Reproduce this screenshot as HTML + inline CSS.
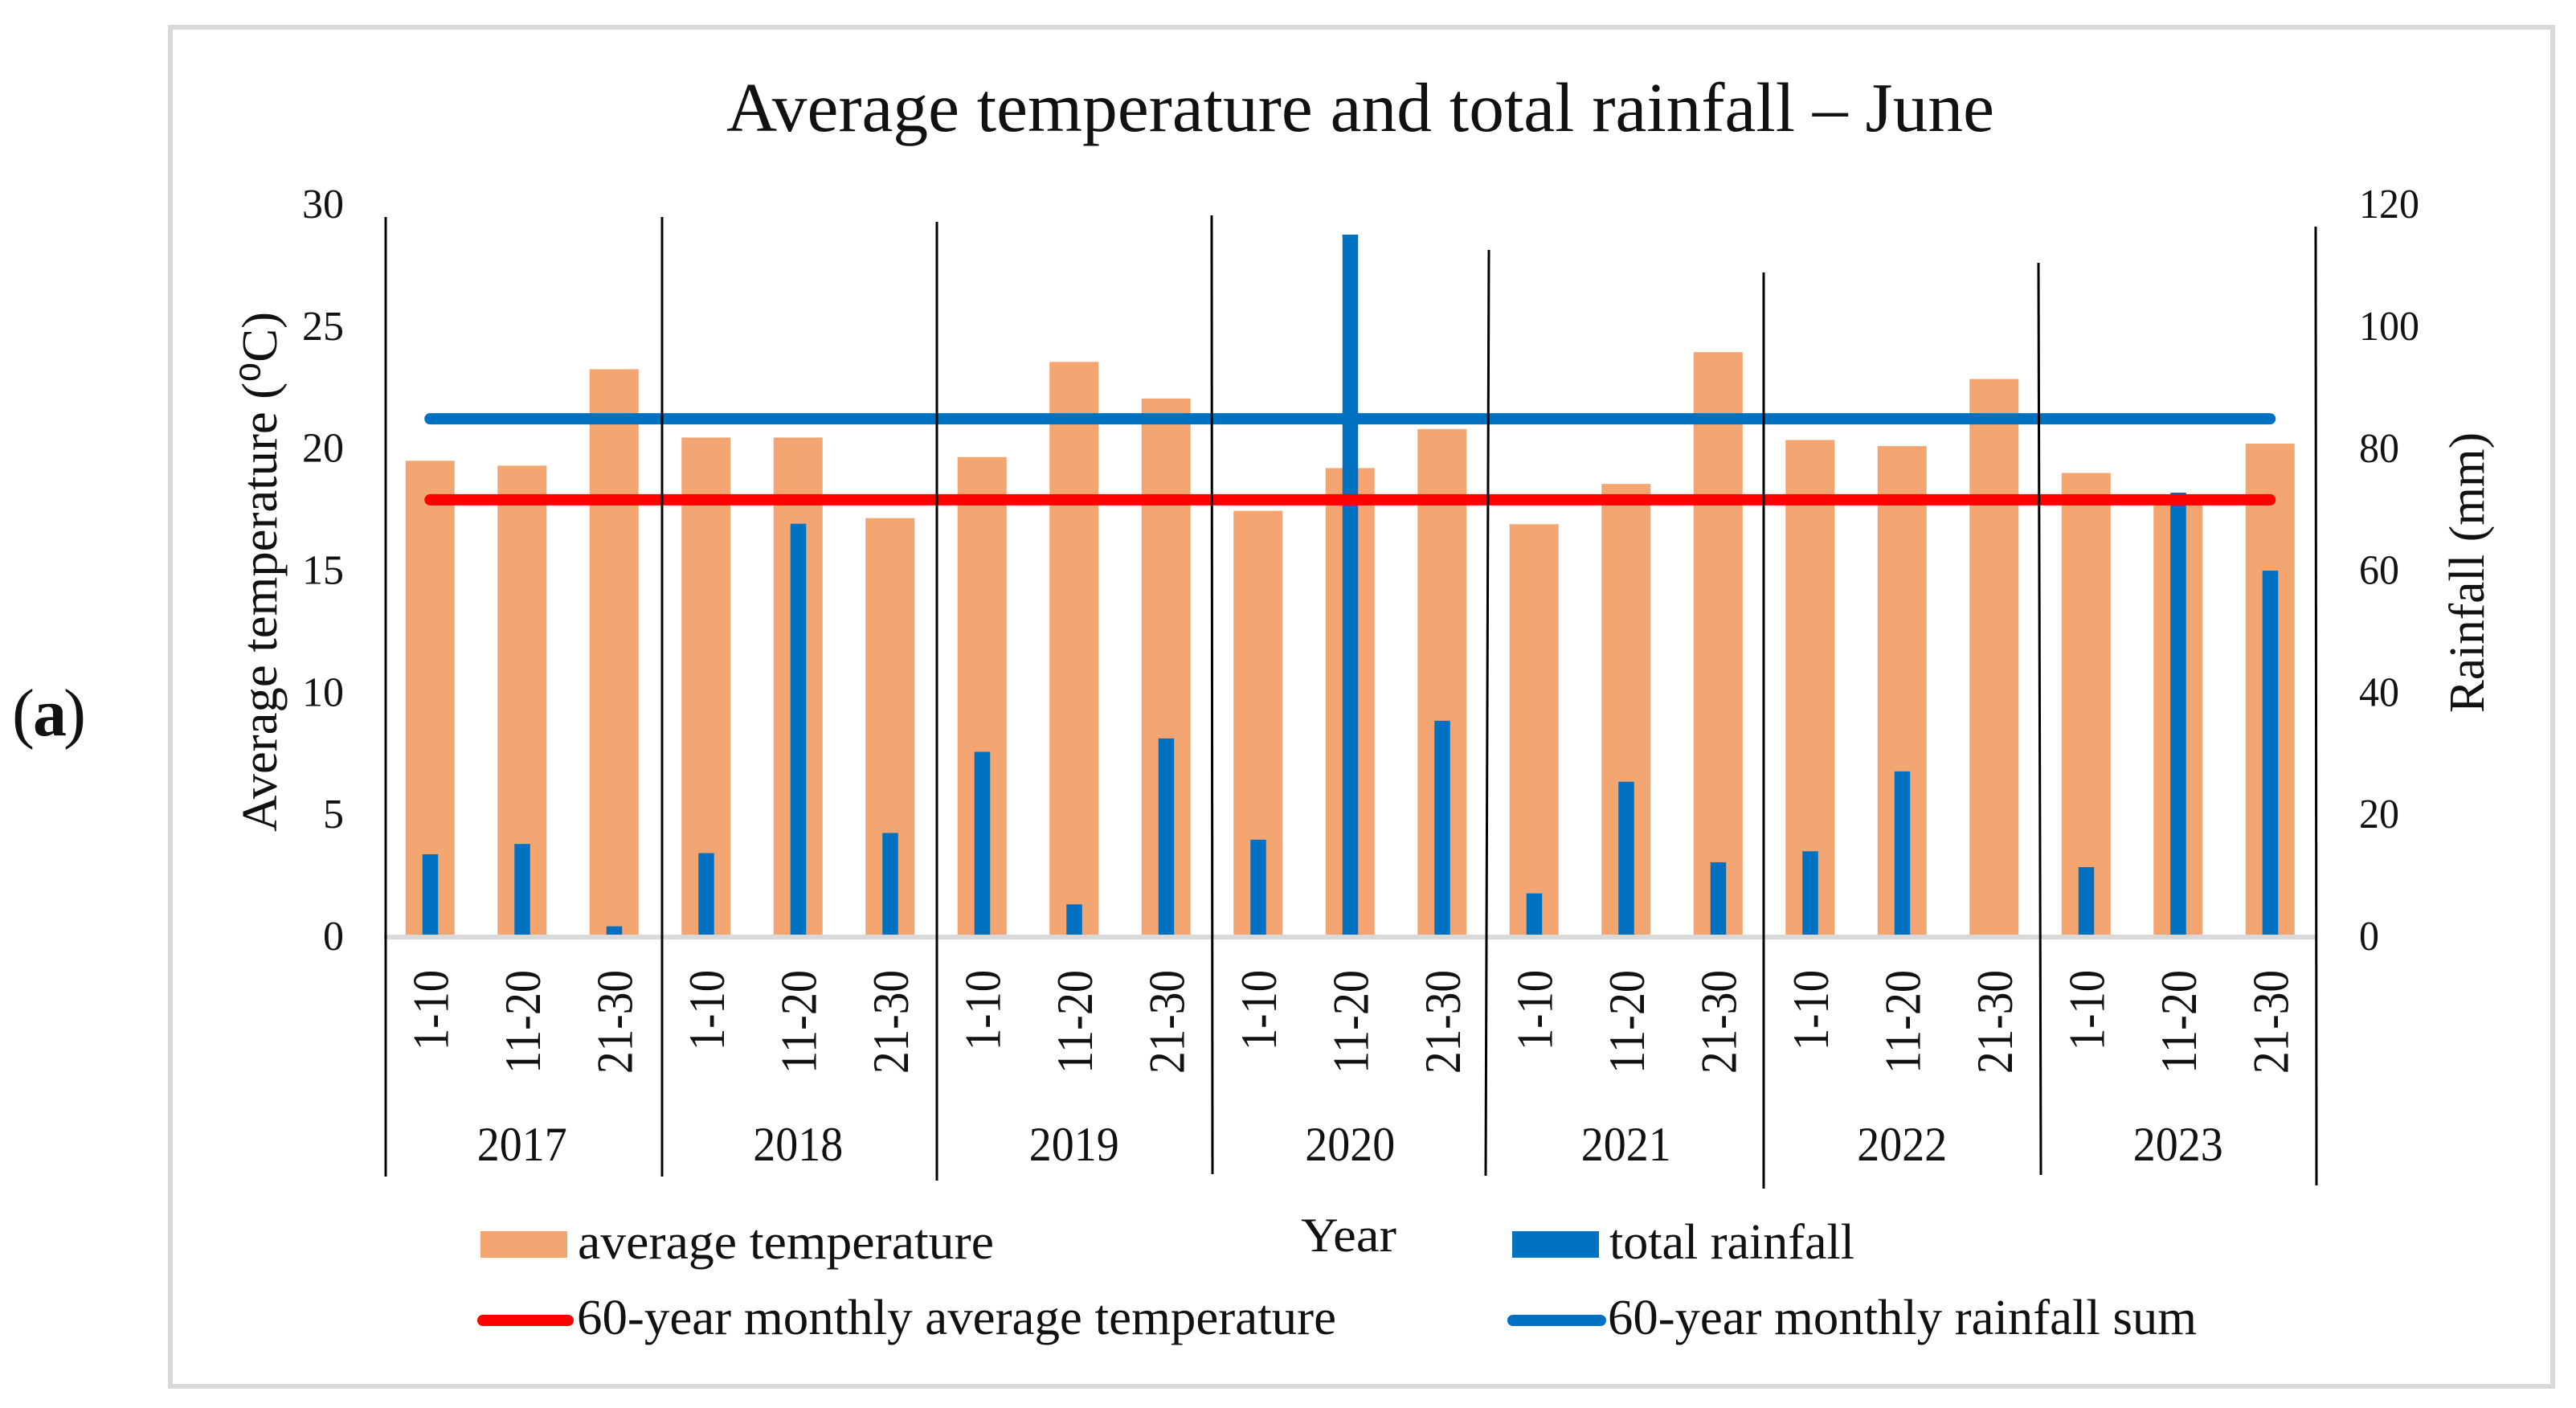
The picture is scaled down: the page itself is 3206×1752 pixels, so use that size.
<!DOCTYPE html>
<html lang="en">
<head>
<meta charset="utf-8">
<title>Average temperature and total rainfall – June</title>
<style>
html,body{margin:0;padding:0;background:#fff;}
body{width:3206px;height:1752px;overflow:hidden;}
svg{display:block;}
text{font-family:"Liberation Serif",serif;fill:#111;}
</style>
</head>
<body>
<svg id="chart" xmlns="http://www.w3.org/2000/svg" width="3206" height="1752" viewBox="0 0 3206 1752">
  <rect x="0" y="0" width="3206" height="1752" fill="#ffffff"/>
  <rect x="212" y="34" width="2965" height="1691" fill="#ffffff" stroke="#d9d9d9" stroke-width="6"/>
  <text y="915" font-size="84">
    <tspan x="15">(</tspan><tspan x="41" font-weight="bold">a</tspan><tspan x="79">)</tspan>
  </text>
  <text x="904" y="163" font-size="87" textLength="1578" lengthAdjust="spacingAndGlyphs">Average temperature and total rainfall – June</text>
  <text transform="translate(344,1035) rotate(-90)" font-size="62" textLength="647" lengthAdjust="spacingAndGlyphs">Average temperature (⁰C)</text>
  <text transform="translate(3091,887) rotate(-90)" font-size="62" textLength="349" lengthAdjust="spacingAndGlyphs">Rainfall (mm)</text>
  <g id="bars"></g>
  <rect x="478" y="1163" width="2405" height="6" fill="#d9d9d9"/>
  <g id="lines"></g>
  <g id="separators"></g>
  <g id="axes"></g>
  <text x="1619" y="1557" font-size="60" textLength="119" lengthAdjust="spacingAndGlyphs">Year</text>
  <g>
    <rect x="598" y="1532" width="108" height="33" fill="#f4a672"/>
    <text x="719" y="1566" font-size="62" textLength="518" lengthAdjust="spacingAndGlyphs">average temperature</text>
    <rect x="1882" y="1532" width="108" height="33" fill="#0070c0"/>
    <text x="2003" y="1566" font-size="62" textLength="305" lengthAdjust="spacingAndGlyphs">total rainfall</text>
    <line x1="601" y1="1643" x2="707" y2="1643" stroke="#ff0000" stroke-width="14" stroke-linecap="round"/>
    <text x="718" y="1660" font-size="62" textLength="945" lengthAdjust="spacingAndGlyphs">60-year monthly average temperature</text>
    <line x1="1883" y1="1643" x2="1992" y2="1643" stroke="#0070c0" stroke-width="14" stroke-linecap="round"/>
    <text x="2001" y="1660" font-size="62" textLength="733" lengthAdjust="spacingAndGlyphs">60-year monthly rainfall sum</text>
  </g>
</svg>
<script>
const years = ["2017","2018","2019","2020","2021","2022","2023"];
const periods = ["1-10","11-20","21-30"];
const averageTemperature = [19.45,19.25,23.2,20.4,20.4,17.1,19.6,23.5,22.0,17.4,19.15,20.75,16.85,18.5,23.9,20.3,20.05,22.8,18.95,17.9,20.15];
const totalRainfall = [13.3,15,1.5,13.5,67.5,16.8,30.1,5.1,32.3,15.7,114.9,35.2,6.9,25.2,12,13.8,26.9,0,11.2,72.6,59.8];
const temperatureNorm = [17.85,17.85,17.85,17.85,17.85,17.85,17.85,17.85,17.85,17.85,17.85,17.85,17.85,17.85,17.85,17.85,17.85,17.85,17.85,17.85,17.85];
const rainfallNorm = [84.7,84.7,84.7,84.7,84.7,84.7,84.7,84.7,84.7,84.7,84.7,84.7,84.7,84.7,84.7,84.7,84.7,84.7,84.7,84.7,84.7];
const temperatureTicks = [0,5,10,15,20,25,30];
const rainfallTicks = [0,20,40,60,80,100,120];

const SVG_NS = "http://www.w3.org/2000/svg";
const plotLeft = 478, bandWidth = 114.5, baselineY = 1164, tempScale = 30.37, rainScale = 7.59;
const separatorStyle = [
  {top:270,bottom:1464,xTop:480,xBottom:480},
  {top:270,bottom:1464,xTop:824,xBottom:824},
  {top:276,bottom:1469,xTop:1166,xBottom:1166},
  {top:268,bottom:1461,xTop:1508,xBottom:1509},
  {top:311,bottom:1463,xTop:1853,xBottom:1849},
  {top:339,bottom:1479,xTop:2195,xBottom:2195},
  {top:327,bottom:1462,xTop:2537,xBottom:2540},
  {top:282,bottom:1475,xTop:2882,xBottom:2883}
];

function xBand(i){ return plotLeft + bandWidth * (i + 0.5); }
function yTemp(v){ return baselineY - v * tempScale; }
function yRain(v){ return baselineY - v * rainScale; }
function make(tag, attrs, parent, content){
  const el = document.createElementNS(SVG_NS, tag);
  for (const k in attrs) el.setAttribute(k, attrs[k]);
  if (content !== undefined) el.textContent = content;
  parent.appendChild(el);
  return el;
}

const barsLayer = document.getElementById("bars");
averageTemperature.forEach(function(v, i){
  const el = make("rect", {x: xBand(i) - 30.5, y: yTemp(v), width: 61, height: baselineY - yTemp(v), fill: "#f4a672"}, barsLayer);
  
  
});
totalRainfall.forEach(function(v, i){
  const el = make("rect", {x: xBand(i) - 9.5, y: yRain(v), width: 19.5, height: baselineY - yRain(v), fill: "#0070c0"}, barsLayer);
  
  
});

const linesLayer = document.getElementById("lines");
const rainPoints = rainfallNorm.map(function(v, i){ return xBand(i) + "," + yRain(v); }).join(" ");
const rainLine = make("polyline", {points: rainPoints, fill: "none", stroke: "#0070c0", "stroke-width": 14, "stroke-linecap": "round"}, linesLayer);


const tempPoints = temperatureNorm.map(function(v, i){ return xBand(i) + "," + yTemp(v); }).join(" ");
const tempLine = make("polyline", {points: tempPoints, fill: "none", stroke: "#ff0000", "stroke-width": 14, "stroke-linecap": "round"}, linesLayer);



const separatorsLayer = document.getElementById("separators");
separatorStyle.forEach(function(s, i){
  const el = make("line", {x1: s.xTop, y1: s.top, x2: s.xBottom, y2: s.bottom, stroke: "#000", "stroke-width": 3}, separatorsLayer);
  
  
});

const axesLayer = document.getElementById("axes");
temperatureTicks.forEach(function(v){
  const el = make("text", {x: 428, y: yTemp(v) + 18, "text-anchor": "end", "font-size": 52}, axesLayer, String(v));
  
  
});
rainfallTicks.forEach(function(v){
  const label = String(v);
  const el = make("text", {x: 2936, y: yRain(v) + 18, "font-size": 52, textLength: label.length * 25, lengthAdjust: "spacingAndGlyphs"}, axesLayer, label);
  
  
});
averageTemperature.forEach(function(v, i){
  const label = periods[i % 3];
  const el = make("text", {transform: "translate(" + (xBand(i) + 22) + ",1207) rotate(-90)", "text-anchor": "end", "font-size": 64, textLength: label.length === 4 ? 100 : 129, lengthAdjust: "spacingAndGlyphs"}, axesLayer, label);
  
  
});
years.forEach(function(y, i){
  const el = make("text", {x: xBand(3 * i + 1), y: 1444, "text-anchor": "middle", "font-size": 60, textLength: 112, lengthAdjust: "spacingAndGlyphs"}, axesLayer, y);
  
  
});
</script>
</body>
</html>
